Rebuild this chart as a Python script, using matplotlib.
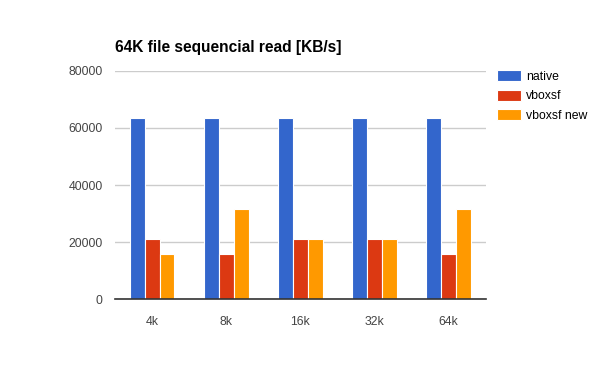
import numpy as np
import matplotlib.pyplot as plt

plt.rcParams['font.family'] = ['Liberation Sans', 'DejaVu Sans']

categories = ["4k", "8k", "16k", "32k", "64k"]
native = [63600, 63600, 63600, 63600, 63600]
vboxsf = [21200, 15900, 21200, 21200, 15900]
vboxsf_new = [15900, 31700, 21200, 21200, 31700]

series = [("native", native, "#3366cc"),
          ("vboxsf", vboxsf, "#dc3912"),
          ("vboxsf new", vboxsf_new, "#ff9900")]

fig = plt.figure(figsize=(6, 3.71), dpi=100)
ax = fig.add_axes([0.1917, 0.193, 0.618, 0.616])

x = np.arange(len(categories))
w = 0.2
for i, (name, vals, col) in enumerate(series):
    ax.bar(x + (i - 1) * w, vals, width=w, color=col, edgecolor="white",
           linewidth=0.8, label=name, zorder=3)

ax.set_xlim(-0.5, len(categories) - 0.5)
ax.set_ylim(0, 80000)
ax.set_yticks([0, 20000, 40000, 60000, 80000])
ax.set_xticks(x)
ax.set_xticklabels(categories)
ax.grid(axis="y", color="#cccccc", linewidth=1, zorder=0)
for s in ["top", "right", "left"]:
    ax.spines[s].set_visible(False)
ax.spines["bottom"].set_color("#333333")
ax.spines["bottom"].set_linewidth(1.2)
ax.spines["bottom"].set_zorder(4)
ax.tick_params(length=0, labelsize=8.8, labelcolor="#444444")
ax.tick_params(axis="y", pad=9)
ax.tick_params(axis="x", pad=12)

fig.text(0.1917, 0.86, "64K file sequencial read [KB/s]", fontsize=11.2,
         fontweight="bold", color="#000000", va="baseline")

fig.legend(loc="upper left", bbox_to_anchor=(0.82, 0.824), frameon=False,
           fontsize=8.8, handlelength=1.95, handleheight=1.0,
           labelspacing=0.55, handletextpad=0.42, borderaxespad=0)

fig.savefig("out.png", dpi=100)
